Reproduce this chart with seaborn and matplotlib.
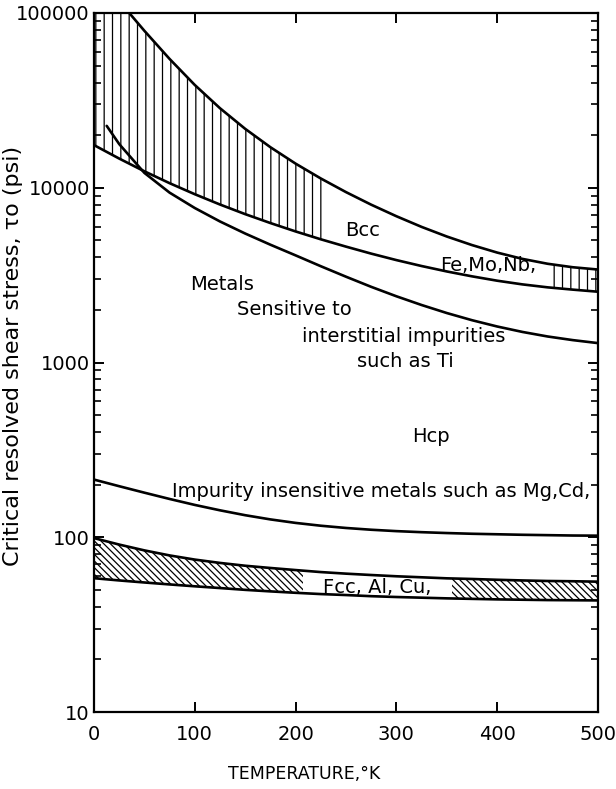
import numpy as np
import pandas as pd
import matplotlib
matplotlib.use("Agg")
import matplotlib.pyplot as plt
import matplotlib.transforms as mtransforms
from matplotlib.patches import Rectangle
from matplotlib.ticker import LogLocator, NullFormatter, FixedLocator
import seaborn as sns

# Temperature grid (K) shared by most boundary curves
temperature = [0, 25, 50, 75, 100, 125, 150, 175, 200, 225, 250, 275, 300,
               325, 350, 375, 400, 425, 450, 475, 500]

# Bcc band (Fe, Mo, Nb): upper and lower bounds of critical resolved shear stress (psi)
bcc_upper = [177800, 116900, 79070, 54580, 38730, 28510, 21730, 17060, 13740, 11300,
             9441, 8000, 6871, 5970, 5260, 4699, 4256, 3917, 3673, 3508, 3404]
bcc_lower = [17540, 14690, 12420, 10620, 9183, 8017, 7063, 6281, 5623, 5070,
             4603, 4198, 3855, 3565, 3319, 3112, 2938, 2799, 2692, 2612, 2541]

# Interstitial-sensitive metals (e.g. Ti): curve starts slightly above 0 K
ti_temperature = [12.6, 25, 50, 75, 100, 125, 150, 175, 200, 225, 250, 275, 300,
                  325, 350, 375, 400, 425, 450, 475, 500]
ti_stress = [22600, 17780, 12160, 9376, 7656, 6412, 5470, 4721, 4102, 3556,
             3097, 2710, 2393, 2133, 1919, 1746, 1607, 1496, 1409, 1343, 1291]

# Impurity-insensitive hcp metals (Mg, Cd)
hcp_stress = [213.8, 195.9, 179.9, 165.6, 153.1, 142.6, 133.7, 126.5, 120.8, 116.4,
              113.0, 110.4, 108.4, 106.9, 105.7, 104.7, 104.0, 103.3, 102.8, 102.3, 102.1]

# Fcc band (Al, Cu)
fcc_upper = [98.9, 90.8, 84.1, 78.7, 74.5, 71.3, 68.7, 66.7, 64.9, 63.2,
             61.9, 60.8, 59.8, 59.0, 58.2, 57.7, 57.1, 56.6, 56.2, 56.0, 55.7]
fcc_lower = [58.3, 56.6, 55.1, 53.7, 52.4, 51.2, 50.0, 49.0, 48.1, 47.3,
             46.7, 46.0, 45.5, 45.1, 44.7, 44.4, 44.1, 43.9, 43.7, 43.6, 43.5]

# Temperature ranges over which each band is shaded
bcc_hatch_spans = [(0, 228), (452, 500)]
fcc_hatch_spans = [(0, 207), (355, 500)]

x_ticks = [0, 100, 200, 300, 400, 500]
y_ticks = [10, 100, 1000, 10000, 100000]
y_tick_labels = ["10", "100", "1000", "10000", "100000"]

sns.set_theme(style="ticks")
plt.rcParams["font.family"] = ["DejaVu Sans"]
plt.rcParams["text.color"] = "black"
plt.rcParams["axes.labelcolor"] = "black"
plt.rcParams["hatch.linewidth"] = 0.9
plt.rcParams["hatch.color"] = "black"

fig = plt.figure(figsize=(6.16, 7.89), dpi=100)
ax = fig.add_axes([94 / 616, 1 - 712 / 789, 504 / 616, 699 / 789])
ax.set_yscale("log")
ax.set_xlim(0, 500)
ax.set_ylim(10, 100000)

curves = pd.DataFrame({
    "T": temperature,
    "bcc_upper": bcc_upper,
    "bcc_lower": bcc_lower,
    "hcp": hcp_stress,
    "fcc_upper": fcc_upper,
    "fcc_lower": fcc_lower,
})
ti = pd.DataFrame({"T": ti_temperature, "tau": ti_stress})

line_kw = dict(color="black", linewidth=1.9, legend=False, ax=ax)
for col in ["bcc_upper", "bcc_lower", "hcp", "fcc_upper", "fcc_lower"]:
    sns.lineplot(data=curves, x="T", y=col, **line_kw)
sns.lineplot(data=ti, x="T", y="tau", **line_kw)

# Hatched bands, each restricted to its temperature spans
span_transform = mtransforms.blended_transform_factory(ax.transData, ax.transAxes)


def hatch_band(lower, upper, spans, pattern):
    for x0, x1 in spans:
        band = ax.fill_between(curves["T"], lower, upper, facecolor="none",
                               edgecolor="black", hatch=pattern, linewidth=0)
        clip = Rectangle((x0, 0), x1 - x0, 1, transform=span_transform)
        band.set_clip_path(clip)


hatch_band(curves["bcc_lower"], curves["bcc_upper"], bcc_hatch_spans, "||")
hatch_band(curves["fcc_lower"], curves["fcc_upper"], fcc_hatch_spans, "\\" * 5)

# Axes styling
for side in ["left", "right", "top", "bottom"]:
    ax.spines[side].set_linewidth(1.6)
    ax.spines[side].set_color("black")

ax.xaxis.set_major_locator(FixedLocator(x_ticks))
ax.set_xticklabels([str(t) for t in x_ticks])
ax.yaxis.set_major_locator(FixedLocator(y_ticks))
ax.set_yticklabels(y_tick_labels)
ax.yaxis.set_minor_locator(LogLocator(base=10, subs=range(2, 10)))
ax.yaxis.set_minor_formatter(NullFormatter())
ax.tick_params(which="both", direction="in", top=True, right=True, color="black",
               labelcolor="black")
ax.tick_params(which="major", length=7.5, width=1.4, labelsize=14)
ax.tick_params(which="minor", length=5, width=1.2)
ax.tick_params(axis="y", which="major", pad=3)
ax.tick_params(axis="x", which="major", pad=9)
ax.set_xlabel("")
ax.set_ylabel("")

fig.text(304 / 616, 1 - 774 / 789, "TEMPERATURE,°K", ha="center", va="center",
         fontsize=12.5, color="black")
fig.text(13 / 616, 1 - 356 / 789, "Critical resolved shear stress, τo (psi)",
         rotation=90, ha="center", va="center", fontsize=16, color="black")

label_kw = dict(ha="left", va="center", fontsize=14, color="black")
ax.text(249, 5700, "Bcc", **label_kw)
ax.text(343, 3570, "Fe,Mo,Nb,", **label_kw)
ax.text(95, 2800, "Metals", **label_kw)
ax.text(142, 2000, "Sensitive to", **label_kw)
ax.text(206, 1410, "interstitial impurities", **label_kw)
ax.text(261, 1014, "such as Ti", **label_kw)
ax.text(316, 377, "Hcp", **label_kw)
ax.text(77, 182, "Impurity insensitive metals such as Mg,Cd,", **label_kw)
ax.text(227, 51.4, "Fcc, Al, Cu,", **label_kw)

fig.savefig("out.png", dpi=100, facecolor="white")
